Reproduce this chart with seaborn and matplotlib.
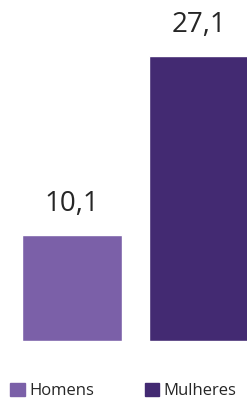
import matplotlib
matplotlib.use("Agg")
import matplotlib.pyplot as plt
import matplotlib.patches as mpatches
import seaborn as sns
import pandas as pd

categories = ["Homens", "Mulheres"]
values = [10.1, 27.1]
colors = ["#7B60A8", "#432A72"]


def main():
    sns.set_theme(style="white")
    plt.rcParams["font.family"] = ["Open Sans", "DejaVu Sans"]

    df = pd.DataFrame({"grupo": categories, "valor": values})

    fig = plt.figure(figsize=(2.47, 4.03), dpi=100)
    ax = fig.add_axes([0, (403 - 341) / 403, 1, 341 / 403])
    sns.barplot(data=df, x="grupo", y="valor", hue="grupo", palette=colors,
                saturation=1, width=0.79, legend=False, ax=ax)
    ax.set_xlim(-0.569, 1.383)
    ax.set_ylim(0, 32.4)
    ax.axis("off")

    for cont in ax.containers:
        ax.bar_label(cont, labels=[f"{v:.1f}".replace(".", ",") for v in cont.datavalues],
                     padding=12, fontsize=20, color="#262626")

    handles = [mpatches.Patch(color=c, label=l) for c, l in zip(colors, categories)]
    fig.legend(handles=handles, loc="lower center", bbox_to_anchor=(0.5, -0.028),
               ncol=2, frameon=False, fontsize=12, handlelength=0.85, handleheight=0.85,
               handletextpad=0.3, columnspacing=3.0, labelcolor="#262626")

    fig.savefig("out.png", dpi=100)
    plt.close(fig)


if __name__ == "__main__":
    main()
